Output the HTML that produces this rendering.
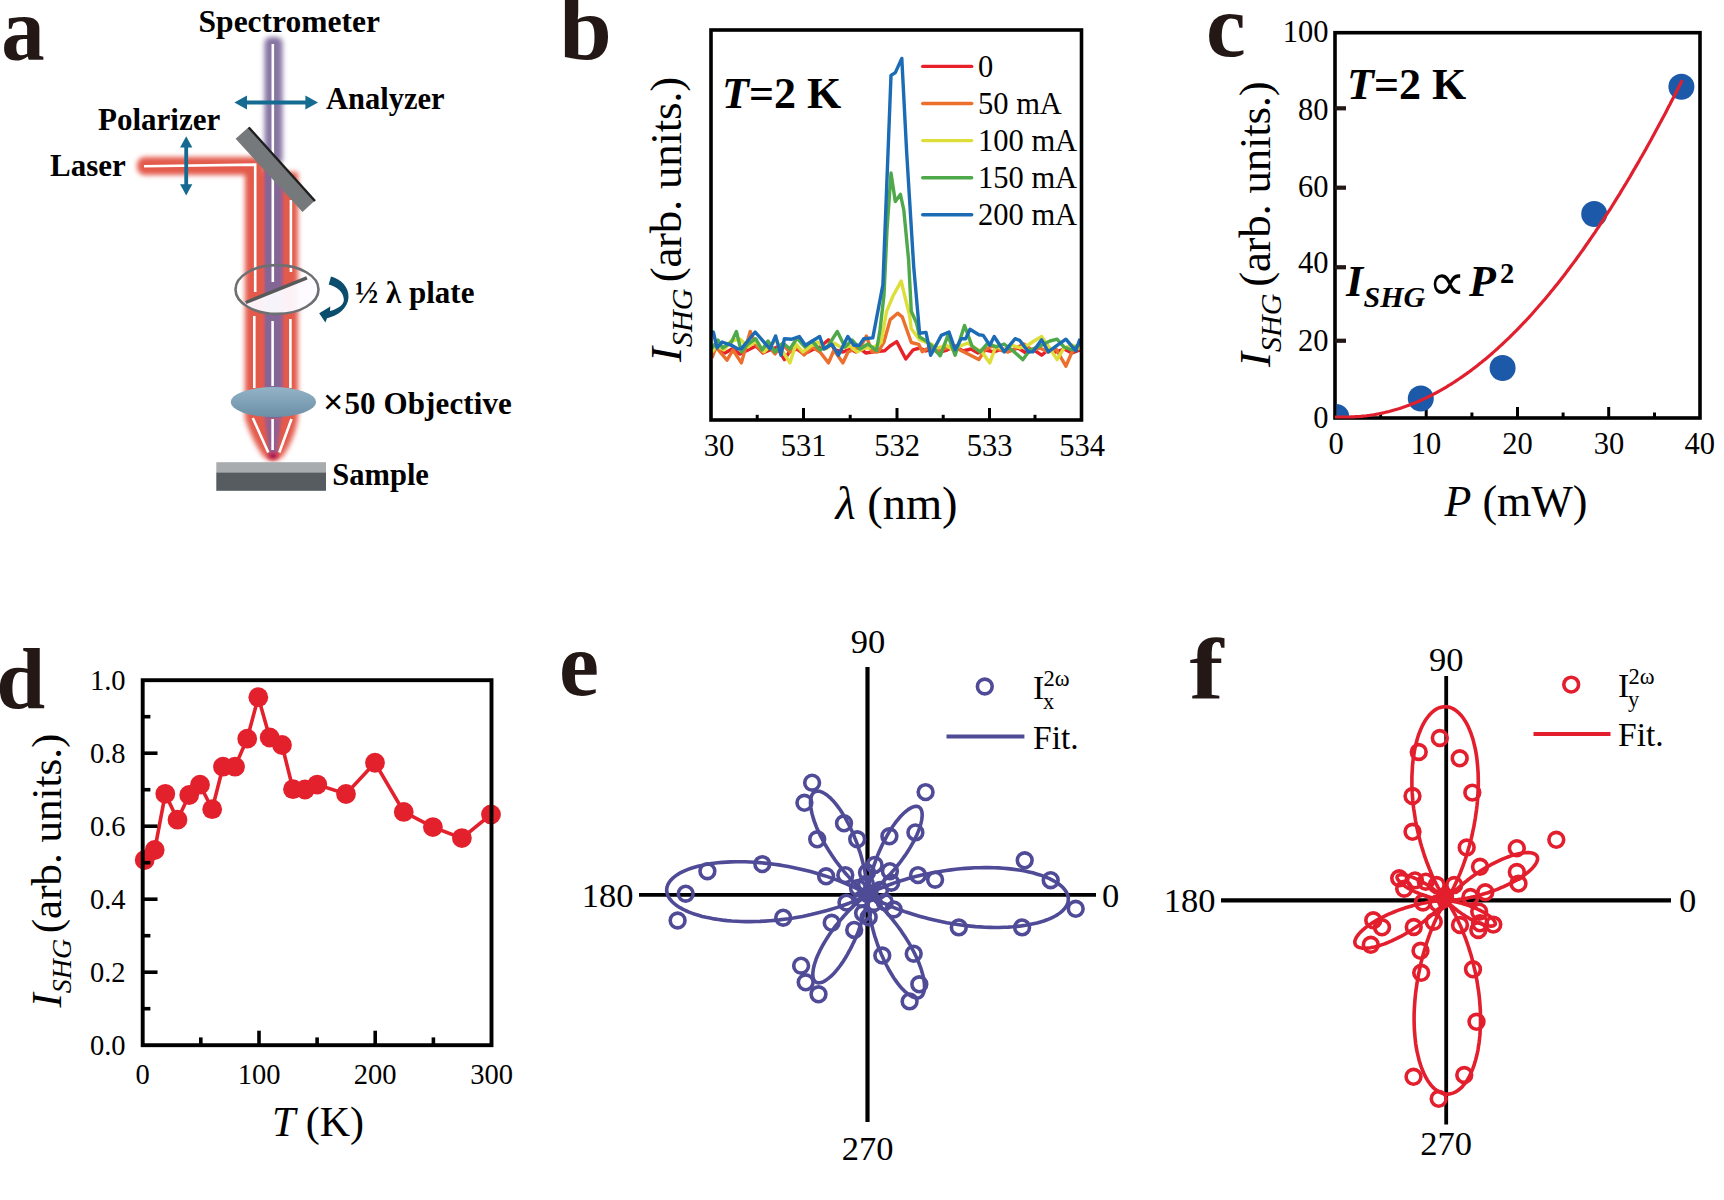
<!DOCTYPE html>
<html><head><meta charset="utf-8"><title>SHG figure</title>
<style>html,body{margin:0;padding:0;background:#fff;} svg{display:block;} text{font-family:'Liberation Serif', 'Times New Roman', serif;}</style>
</head><body>
<svg width="1724" height="1200" viewBox="0 0 1724 1200">
<rect width="1724" height="1200" fill="#fff"/>
<text transform="matrix(0.9439,0,0,0.9837,-0.72,1.28)" x="2" y="59.5" font-size="92" font-weight="bold" fill="#231815">a</text>
<text transform="matrix(1.0286,0,0,0.9918,-18.70,0.00)" x="562" y="59.5" font-size="92" font-weight="bold" fill="#231815">b</text>
<text transform="matrix(0.9714,0,0,0.9773,33.57,1.30)" x="1207" y="56" font-size="92" font-weight="bold" fill="#231815">c</text>
<text transform="matrix(0.9565,0,0,0.9375,-2.87,44.31)" x="-1" y="708" font-size="92" font-weight="bold" fill="#231815">d</text>
<text transform="matrix(0.9800,0,0,0.9773,10.26,15.82)" x="560" y="695" font-size="92" font-weight="bold" fill="#231815">e</text>
<text transform="matrix(1.1100,0,0,0.9375,-126.87,44.33)" x="1186" y="698" font-size="92" font-weight="bold" fill="#231815">f</text>
<defs>
<filter id="bl3" x="-30%" y="-10%" width="160%" height="120%"><feGaussianBlur stdDeviation="2.6"/></filter>
<filter id="bl2" x="-30%" y="-10%" width="160%" height="120%"><feGaussianBlur stdDeviation="1.8"/></filter>
<filter id="bl1"><feGaussianBlur stdDeviation="0.6"/></filter>
<linearGradient id="lens" x1="0" y1="0" x2="0" y2="1"><stop offset="0" stop-color="#93b3c6"/><stop offset="1" stop-color="#6c8fa7"/></linearGradient>
<linearGradient id="purp" x1="0" y1="0" x2="1" y2="0">
 <stop offset="0" stop-color="#e35a4c" stop-opacity="0"/>
 <stop offset="0.1" stop-color="#c05a70"/>
 <stop offset="0.18" stop-color="#836696"/>
 <stop offset="0.72" stop-color="#836696"/>
 <stop offset="0.85" stop-color="#b05a80"/>
 <stop offset="1" stop-color="#e35a4c" stop-opacity="0"/>
</linearGradient>
<radialGradient id="focus" cx="0.5" cy="0.5" r="0.5"><stop offset="0" stop-color="#a0145a"/><stop offset="1" stop-color="#c8284a" stop-opacity="0"/></radialGradient>
<clipPath id="clipC"><rect x="1336.8" y="34.5" width="361.4" height="381.7"/></clipPath>
<clipPath id="wpclip"><ellipse cx="277" cy="289.5" rx="42" ry="24.7"/></clipPath>
</defs>
<rect x="264.5" y="37" width="18" height="128" rx="6" fill="#8674a2" filter="url(#bl3)"/>
<g filter="url(#bl3)" fill="#e35a4c">
<rect x="137" y="157" width="125" height="18" rx="8"/>
<rect x="245" y="157" width="20" height="30"/>
<rect x="245" y="172" width="53" height="248"/>
<path d="M245,410 L298,410 L298,418 C296,432 290,446 283,456 Q273,466 263,456 C256,446 249,432 245,418 Z"/>
</g>
<polygon points="262,166 286,192 286,418 262,418" fill="url(#purp)" filter="url(#bl1)"/>
<path d="M265,418 L281,418 L277,454 L269,454 Z" fill="#8a5f98" opacity="0.9" filter="url(#bl2)"/>
<ellipse cx="273" cy="456" rx="8" ry="6" fill="url(#focus)"/>
<polyline points="144,166.3 255.2,164.6 255.2,292" stroke="#fff" stroke-width="2.6" fill="none"/>
<line x1="272.8" y1="44" x2="272.8" y2="282" stroke="#fff" stroke-width="2.6" fill="none"/>
<line x1="290.9" y1="200" x2="290.9" y2="272" stroke="#fff" stroke-width="2.6" fill="none"/>
<line x1="254.3" y1="316" x2="254.3" y2="388" stroke="#fff" stroke-width="2.6" fill="none"/>
<line x1="272.6" y1="321" x2="272.6" y2="386" stroke="#fff" stroke-width="2.6" fill="none"/>
<line x1="290.4" y1="319" x2="290.4" y2="388" stroke="#fff" stroke-width="2.6" fill="none"/>
<line x1="252.8" y1="418" x2="268.3" y2="452.5" stroke="#fff" stroke-width="2.6" fill="none"/>
<line x1="272.6" y1="419" x2="272.6" y2="450" stroke="#fff" stroke-width="2.6" fill="none"/>
<line x1="291.5" y1="419" x2="279.3" y2="452.5" stroke="#fff" stroke-width="2.6" fill="none"/>
<polygon points="235.6,138.8 248.8,126.9 315,200.6 302.5,211.9" fill="#76797c"/>
<polyline points="248.8,127.5 315,201" stroke="#1e1e1e" stroke-width="2.4" fill="none"/>
<g clip-path="url(#wpclip)"><polygon points="230,305 245.8,302.5 306.9,277.9 325,270 325,320 230,320" fill="#fdfbff" opacity="0.95"/></g>
<ellipse cx="277" cy="289.5" rx="41.5" ry="24.4" fill="none" stroke="#6d6f72" stroke-width="2.6"/>
<line x1="245.8" y1="302.5" x2="306.9" y2="277.9" stroke="#58595b" stroke-width="3.4"/>
<ellipse cx="273.4" cy="402.1" rx="42.7" ry="15" fill="url(#lens)"/>
<rect x="216.3" y="462.2" width="109.7" height="10.5" fill="#a8acae"/>
<rect x="216.3" y="472.5" width="109.7" height="18.3" fill="#565c60"/>
<line x1="246" y1="102.5" x2="306" y2="102.5" stroke="#156a91" stroke-width="3.8"/>
<polygon points="234.4,102.5 247,95.6 247,109.4" fill="#156a91"/>
<polygon points="318,102.5 305.4,95.6 305.4,109.4" fill="#156a91"/>
<line x1="186.2" y1="146" x2="186.2" y2="186" stroke="#156a91" stroke-width="3.8"/>
<polygon points="186.2,136.3 180.1,147.5 192.3,147.5" fill="#156a91"/>
<polygon points="186.2,195.4 180.1,184.2 192.3,184.2" fill="#156a91"/>
<path d="M331,276.6 C341,279.5 349,287 348.5,297.5 C348,308 338,316 327,318.2 L325.4,322.4 L319.2,313.2 L330.3,306.4 L330,311 C338,309 344,304.5 343.9,299.7 C343.5,292 337,286.5 328.7,284.5 Z" fill="#0b4d6c"/>
<text x="198.6" y="31.9" font-size="31.5" font-weight="bold" font-style="normal" text-anchor="start" fill="#000" >Spectrometer</text>
<text x="326.0" y="109.2" font-size="30.5" font-weight="bold" font-style="normal" text-anchor="start" fill="#000" >Analyzer</text>
<text x="98.0" y="129.9" font-size="31" font-weight="bold" font-style="normal" text-anchor="start" fill="#000" >Polarizer</text>
<text x="50.0" y="176.3" font-size="31" font-weight="bold" font-style="normal" text-anchor="start" fill="#000" >Laser</text>
<text x="355.0" y="303.2" font-size="31" font-weight="bold" font-style="normal" text-anchor="start" fill="#000" >½ λ plate</text>
<text x="323" y="413.8" font-size="31" font-weight="bold" fill="#000"><tspan font-size="36">×</tspan><tspan dx="1" letter-spacing="0.1">50 Objective</tspan></text>
<text x="332.3" y="485.4" font-size="30.5" font-weight="bold" font-style="normal" text-anchor="start" fill="#000" >Sample</text>
<polyline points="712.0,351.0 718.0,347.0 725.0,353.0 732.0,349.0 740.0,354.0 748.0,350.0 756.0,346.0 763.0,353.0 770.0,350.0 777.0,347.0 784.4,359.6 790.0,351.0 797.0,349.0 804.0,354.0 812.0,350.0 820.0,347.0 828.5,339.8 835.0,350.0 843.0,352.0 850.0,349.0 856.0,352.0 860.0,348.9 866.0,353.0 873.7,351.7 884.7,350.7 890.0,346.0 896.7,341.6 905.8,359.0 913.2,349.8 919.6,348.0 926.0,351.0 933.0,348.0 940.0,352.0 947.0,350.0 955.0,346.0 963.0,351.0 971.0,349.0 978.0,353.0 986.0,350.0 994.0,352.0 1002.0,349.0 1010.0,351.0 1018.0,348.0 1026.0,353.0 1034.0,350.0 1041.6,355.2 1048.0,350.0 1056.0,352.0 1064.0,349.0 1072.0,353.0 1080.0,350.0" fill="none" stroke="#e8202a" stroke-width="3.4" stroke-linejoin="round"/>
<polyline points="712.0,358.0 716.0,347.0 720.0,352.0 727.0,360.2 733.0,350.0 741.4,362.9 750.2,331.5 756.0,345.0 762.0,352.0 768.0,346.0 775.0,354.0 782.0,344.0 790.0,352.0 797.0,347.0 804.0,355.0 812.0,347.0 820.0,352.0 828.5,362.9 834.0,350.0 842.8,362.9 848.0,352.0 855.0,349.0 860.0,348.0 866.4,336.0 871.9,351.7 878.3,351.7 883.8,342.5 890.2,319.6 897.6,313.2 902.2,316.8 911.3,342.5 918.7,344.3 922.3,351.7 930.0,347.0 937.0,352.0 944.0,349.0 952.0,346.0 960.0,350.0 968.0,354.0 978.8,359.6 985.0,350.0 992.0,346.0 1000.0,350.0 1008.0,352.0 1016.0,348.0 1024.0,344.0 1032.0,350.0 1040.0,348.0 1048.0,352.0 1056.0,349.0 1065.9,366.2 1072.0,352.0 1080.0,345.0" fill="none" stroke="#ec6f2d" stroke-width="3.4" stroke-linejoin="round"/>
<polyline points="712.0,352.0 717.0,346.0 724.0,350.0 731.0,341.0 740.3,339.2 748.0,347.0 756.0,341.0 764.0,352.0 770.0,346.0 776.0,340.0 783.0,352.0 789.9,362.9 796.0,344.0 803.0,352.0 811.0,346.0 818.0,342.0 826.0,349.0 834.0,343.0 842.0,348.0 850.0,346.0 857.0,352.0 864.6,348.0 870.0,348.0 876.0,346.0 881.1,342.5 886.6,311.3 893.0,296.0 901.2,281.1 905.0,297.0 909.5,315.0 911.3,328.7 919.6,339.7 931.5,344.3 938.0,348.0 946.0,345.0 953.0,350.0 960.0,346.0 968.0,343.0 975.0,348.0 982.0,352.0 989.8,362.9 996.0,346.0 1004.0,350.0 1012.0,345.0 1020.0,348.0 1028.0,345.0 1034.0,341.0 1041.6,336.5 1049.0,347.0 1057.1,359.6 1064.0,348.0 1072.0,345.0 1080.0,349.0" fill="none" stroke="#dede3a" stroke-width="3.4" stroke-linejoin="round"/>
<polyline points="712.0,348.0 718.0,340.0 722.6,348.0 731.5,342.0 736.4,331.5 741.4,352.0 748.0,344.0 755.7,338.7 762.0,350.0 768.0,341.0 775.0,352.0 783.0,343.0 790.0,349.0 797.0,338.0 805.0,347.0 812.0,341.0 820.0,350.0 828.0,346.0 837.3,331.5 845.0,347.0 852.0,340.0 860.0,349.0 868.0,344.0 876.5,350.7 880.0,330.0 884.0,295.0 887.0,230.0 891.0,173.0 895.3,201.5 900.4,194.4 903.8,210.0 908.6,260.0 911.3,311.3 916.6,323.3 919.6,337.0 926.0,340.7 932.0,346.0 940.2,355.8 947.9,335.4 955.1,355.2 964.5,325.4 972.0,346.0 980.0,352.0 988.0,343.0 996.0,347.0 1004.0,344.0 1012.0,350.0 1022.9,359.6 1030.0,350.0 1040.0,346.0 1050.0,341.0 1057.0,339.2 1064.0,347.0 1072.0,350.0 1080.0,343.0" fill="none" stroke="#4fa84a" stroke-width="3.4" stroke-linejoin="round"/>
<polyline points="712.0,335.0 713.3,332.0 717.1,348.0 722.1,342.0 731.5,345.3 738.0,349.0 741.4,348.6 755.2,332.0 770.0,349.0 775.6,335.9 781.0,355.2 784.4,338.7 792.0,339.2 799.3,336.5 805.3,345.3 819.7,336.5 824.0,349.0 831.8,344.2 838.4,355.2 847.8,336.5 853.8,345.3 859.4,345.3 863.8,338.7 872.8,337.9 882.9,284.7 891.0,75.4 895.3,72.6 901.8,58.4 906.7,153.0 913.7,266.6 919.6,333.3 926.0,332.4 930.7,355.3 941.3,335.4 949.0,332.0 955.1,349.7 961.2,338.7 965.6,338.7 970.0,329.3 978.8,334.8 983.2,335.4 989.8,345.3 994.2,336.5 1004.2,351.9 1015.2,338.7 1019.6,340.3 1028.4,351.9 1032.8,351.9 1041.6,339.8 1048.3,351.9 1057.1,345.3 1065.9,339.2 1075.8,350.8 1080.0,338.7" fill="none" stroke="#1c6bb5" stroke-width="3.4" stroke-linejoin="round"/>
<rect x="711" y="30" width="370.5" height="390" fill="none" stroke="#000" stroke-width="3.6"/>
<line x1="803.5" y1="420" x2="803.5" y2="408" stroke="#000" stroke-width="3"/>
<line x1="897" y1="420" x2="897" y2="408" stroke="#000" stroke-width="3"/>
<line x1="989.5" y1="420" x2="989.5" y2="408" stroke="#000" stroke-width="3"/>
<line x1="757.2" y1="420" x2="757.2" y2="414.8" stroke="#000" stroke-width="3"/>
<line x1="850.2" y1="420" x2="850.2" y2="414.8" stroke="#000" stroke-width="3"/>
<line x1="943.2" y1="420" x2="943.2" y2="414.8" stroke="#000" stroke-width="3"/>
<line x1="1035" y1="420" x2="1035" y2="414.8" stroke="#000" stroke-width="3"/>
<text x="719.0" y="456.4" font-size="30.5" font-weight="normal" font-style="normal" text-anchor="middle" fill="#000" >30</text>
<text x="803.5" y="456.4" font-size="30.5" font-weight="normal" font-style="normal" text-anchor="middle" fill="#000" >531</text>
<text x="897.0" y="456.4" font-size="30.5" font-weight="normal" font-style="normal" text-anchor="middle" fill="#000" >532</text>
<text x="989.5" y="456.4" font-size="30.5" font-weight="normal" font-style="normal" text-anchor="middle" fill="#000" >533</text>
<text x="1082.0" y="456.4" font-size="30.5" font-weight="normal" font-style="normal" text-anchor="middle" fill="#000" >534</text>
<line x1="922.7" y1="66.4" x2="971.7" y2="66.4" stroke="#e8202a" stroke-width="3.4" stroke-linecap="round"/>
<text x="978.0" y="76.6" font-size="30.5" font-weight="normal" font-style="normal" text-anchor="start" fill="#000" >0</text>
<line x1="922.7" y1="103.5" x2="971.7" y2="103.5" stroke="#ec6f2d" stroke-width="3.4" stroke-linecap="round"/>
<text x="978.0" y="113.7" font-size="30.5" font-weight="normal" font-style="normal" text-anchor="start" fill="#000" >50 mA</text>
<line x1="922.7" y1="140.6" x2="971.7" y2="140.6" stroke="#dede3a" stroke-width="3.4" stroke-linecap="round"/>
<text x="978.0" y="150.8" font-size="30.5" font-weight="normal" font-style="normal" text-anchor="start" fill="#000" >100 mA</text>
<line x1="922.7" y1="177.7" x2="971.7" y2="177.7" stroke="#4fa84a" stroke-width="3.4" stroke-linecap="round"/>
<text x="978.0" y="187.9" font-size="30.5" font-weight="normal" font-style="normal" text-anchor="start" fill="#000" >150 mA</text>
<line x1="922.7" y1="214.8" x2="971.7" y2="214.8" stroke="#1c6bb5" stroke-width="3.4" stroke-linecap="round"/>
<text x="978.0" y="225.0" font-size="30.5" font-weight="normal" font-style="normal" text-anchor="start" fill="#000" >200 mA</text>
<text x="722" y="107.6" font-size="44" font-weight="bold" fill="#000"><tspan font-style="italic">T</tspan>=2 K</text>
<text transform="translate(681,362) rotate(-90)" font-size="45" fill="#000"><tspan font-style="italic">I</tspan><tspan font-style="italic" font-size="30" dy="11">SHG</tspan><tspan dx="6.3" dy="-11" letter-spacing="-0.25">(arb. units.)</tspan></text>
<text x="896.5" y="519.2" font-size="46.5" text-anchor="middle" fill="#000"><tspan font-style="italic">λ</tspan> (nm)</text>
<rect x="1335" y="32.7" width="365" height="385.3" fill="none" stroke="#000" stroke-width="3.6"/>
<line x1="1335" y1="108.3" x2="1346" y2="108.3" stroke="#231815" stroke-width="4.2"/>
<line x1="1335" y1="187.7" x2="1346" y2="187.7" stroke="#231815" stroke-width="4.2"/>
<line x1="1335" y1="267.25" x2="1346" y2="267.25" stroke="#231815" stroke-width="4.2"/>
<line x1="1335" y1="340.75" x2="1346" y2="340.75" stroke="#231815" stroke-width="4.2"/>
<line x1="1426.2" y1="418" x2="1426.2" y2="407" stroke="#000" stroke-width="3"/>
<line x1="1517.5" y1="418" x2="1517.5" y2="407" stroke="#000" stroke-width="3"/>
<line x1="1608.7" y1="418" x2="1608.7" y2="407" stroke="#000" stroke-width="3"/>
<line x1="1380.6" y1="418" x2="1380.6" y2="412.5" stroke="#000" stroke-width="3"/>
<line x1="1471.9" y1="418" x2="1471.9" y2="412.5" stroke="#000" stroke-width="3"/>
<line x1="1563.1" y1="418" x2="1563.1" y2="412.5" stroke="#000" stroke-width="3"/>
<line x1="1654.5" y1="418" x2="1654.5" y2="412.5" stroke="#000" stroke-width="3"/>
<g clip-path="url(#clipC)">
<circle cx="1336.3" cy="417" r="13" fill="#1c59a8"/>
<circle cx="1420.8" cy="398.5" r="13" fill="#1c59a8"/>
<circle cx="1502.6" cy="368" r="13" fill="#1c59a8"/>
<circle cx="1594.2" cy="214" r="13" fill="#1c59a8"/>
<circle cx="1681.4" cy="86.7" r="13" fill="#1c59a8"/>
</g>
<polyline points="1335.0,417.0 1336.7,417.0 1338.5,417.0 1340.2,417.0 1342.0,417.0 1343.7,417.0 1345.5,417.0 1347.2,417.0 1349.0,417.0 1350.7,416.9 1352.4,416.9 1354.2,416.8 1355.9,416.7 1357.7,416.6 1359.4,416.5 1361.2,416.3 1362.9,416.1 1364.7,416.0 1366.4,415.8 1368.1,415.5 1369.9,415.3 1371.6,415.0 1373.4,414.8 1375.1,414.5 1376.9,414.2 1378.6,413.8 1380.4,413.5 1382.1,413.1 1383.9,412.7 1385.6,412.3 1387.3,411.9 1389.1,411.5 1390.8,411.0 1392.6,410.5 1394.3,410.0 1396.1,409.5 1397.8,409.0 1399.6,408.5 1401.3,407.9 1403.0,407.3 1404.8,406.7 1406.5,406.1 1408.3,405.4 1410.0,404.8 1411.8,404.1 1413.5,403.4 1415.3,402.7 1417.0,402.0 1418.7,401.2 1420.5,400.5 1422.2,399.7 1424.0,398.9 1425.7,398.1 1427.5,397.2 1429.2,396.4 1431.0,395.5 1432.7,394.6 1434.4,393.7 1436.2,392.8 1437.9,391.8 1439.7,390.8 1441.4,389.9 1443.2,388.9 1444.9,387.8 1446.7,386.8 1448.4,385.7 1450.2,384.7 1451.9,383.6 1453.6,382.5 1455.4,381.3 1457.1,380.2 1458.9,379.0 1460.6,377.8 1462.4,376.6 1464.1,375.4 1465.9,374.2 1467.6,372.9 1469.3,371.7 1471.1,370.4 1472.8,369.1 1474.6,367.7 1476.3,366.4 1478.1,365.0 1479.8,363.6 1481.6,362.2 1483.3,360.8 1485.0,359.4 1486.8,357.9 1488.5,356.5 1490.3,355.0 1492.0,353.5 1493.8,351.9 1495.5,350.4 1497.3,348.8 1499.0,347.2 1500.7,345.6 1502.5,344.0 1504.2,342.4 1506.0,340.7 1507.7,339.1 1509.5,337.4 1511.2,335.7 1513.0,333.9 1514.7,332.2 1516.5,330.4 1518.2,328.6 1519.9,326.8 1521.7,325.0 1523.4,323.2 1525.2,321.3 1526.9,319.5 1528.7,317.6 1530.4,315.7 1532.2,313.7 1533.9,311.8 1535.6,309.8 1537.4,307.8 1539.1,305.8 1540.9,303.8 1542.6,301.8 1544.4,299.7 1546.1,297.7 1547.9,295.6 1549.6,293.5 1551.3,291.3 1553.1,289.2 1554.8,287.0 1556.6,284.9 1558.3,282.7 1560.1,280.4 1561.8,278.2 1563.6,276.0 1565.3,273.7 1567.0,271.4 1568.8,269.1 1570.5,266.8 1572.3,264.4 1574.0,262.1 1575.8,259.7 1577.5,257.3 1579.3,254.9 1581.0,252.4 1582.8,250.0 1584.5,247.5 1586.2,245.0 1588.0,242.5 1589.7,240.0 1591.5,237.4 1593.2,234.9 1595.0,232.3 1596.7,229.7 1598.5,227.1 1600.2,224.4 1601.9,221.8 1603.7,219.1 1605.4,216.4 1607.2,213.7 1608.9,211.0 1610.7,208.3 1612.4,205.5 1614.2,202.7 1615.9,199.9 1617.6,197.1 1619.4,194.3 1621.1,191.4 1622.9,188.5 1624.6,185.7 1626.4,182.8 1628.1,179.8 1629.9,176.9 1631.6,173.9 1633.3,170.9 1635.1,167.9 1636.8,164.9 1638.6,161.9 1640.3,158.8 1642.1,155.8 1643.8,152.7 1645.6,149.6 1647.3,146.5 1649.1,143.3 1650.8,140.2 1652.5,137.0 1654.3,133.8 1656.0,130.6 1657.8,127.3 1659.5,124.1 1661.3,120.8 1663.0,117.5 1664.8,114.2 1666.5,110.9 1668.2,107.6 1670.0,104.2 1671.7,100.8 1673.5,97.4 1675.2,94.0 1677.0,90.6 1678.7,87.1 1680.5,83.7 1682.2,80.2" fill="none" stroke="#e0202e" stroke-width="3.2"/>
<text x="1328.5" y="42.0" font-size="30.5" font-weight="normal" font-style="normal" text-anchor="end" fill="#000" >100</text>
<text x="1328.5" y="119.5" font-size="30.5" font-weight="normal" font-style="normal" text-anchor="end" fill="#000" >80</text>
<text x="1328.5" y="196.5" font-size="30.5" font-weight="normal" font-style="normal" text-anchor="end" fill="#000" >60</text>
<text x="1328.5" y="273.3" font-size="30.5" font-weight="normal" font-style="normal" text-anchor="end" fill="#000" >40</text>
<text x="1328.5" y="350.5" font-size="30.5" font-weight="normal" font-style="normal" text-anchor="end" fill="#000" >20</text>
<text x="1328.5" y="427.5" font-size="30.5" font-weight="normal" font-style="normal" text-anchor="end" fill="#000" >0</text>
<text x="1336.0" y="453.5" font-size="30.5" font-weight="normal" font-style="normal" text-anchor="middle" fill="#000" >0</text>
<text x="1426.0" y="453.5" font-size="30.5" font-weight="normal" font-style="normal" text-anchor="middle" fill="#000" >10</text>
<text x="1517.5" y="453.5" font-size="30.5" font-weight="normal" font-style="normal" text-anchor="middle" fill="#000" >20</text>
<text x="1609.0" y="453.5" font-size="30.5" font-weight="normal" font-style="normal" text-anchor="middle" fill="#000" >30</text>
<text x="1699.7" y="453.5" font-size="30.5" font-weight="normal" font-style="normal" text-anchor="middle" fill="#000" >40</text>
<text x="1347" y="98.9" font-size="44" font-weight="bold" fill="#000"><tspan font-style="italic">T</tspan>=2 K</text>
<text x="1346" y="295.8" font-size="44" font-weight="bold" font-style="italic" fill="#000">I</text>
<text x="1363.5" y="307.3" font-size="30" font-weight="bold" font-style="italic" fill="#000">SHG</text>
<text x="1427.7" y="299.5" font-size="53" fill="#000">∝</text>
<text x="1469" y="295.8" font-size="44" font-weight="bold" font-style="italic" fill="#000">P</text>
<text x="1500" y="282.5" font-size="28.5" font-weight="bold" fill="#000">2</text>
<text transform="translate(1269.5,367) rotate(-90)" font-size="45" fill="#000"><tspan font-style="italic">I</tspan><tspan font-style="italic" font-size="30" dy="11">SHG</tspan><tspan dx="6.8" dy="-11" letter-spacing="-0.25">(arb. units.)</tspan></text>
<text x="1516" y="515.5" font-size="44" text-anchor="middle" fill="#000"><tspan font-style="italic">P</tspan> (mW)</text>
<polyline points="144.7,860.0 154.7,850.0 165.3,793.8 177.5,819.7 189.2,795.0 200.0,784.7 212.2,809.2 223.0,766.7 235.0,766.7 247.2,738.7 258.3,697.2 269.7,737.5 282.0,745.0 293.0,789.2 305.0,789.5 317.2,784.6 346.0,794.0 375.0,762.8 403.8,811.9 432.9,827.1 461.9,838.1 491.0,814.4" fill="none" stroke="#e3212d" stroke-width="3.6"/>
<circle cx="144.7" cy="860" r="9.9" fill="#e3212d"/>
<circle cx="154.7" cy="850" r="9.9" fill="#e3212d"/>
<circle cx="165.3" cy="793.8" r="9.9" fill="#e3212d"/>
<circle cx="177.5" cy="819.7" r="9.9" fill="#e3212d"/>
<circle cx="189.2" cy="795" r="9.9" fill="#e3212d"/>
<circle cx="200" cy="784.7" r="9.9" fill="#e3212d"/>
<circle cx="212.2" cy="809.2" r="9.9" fill="#e3212d"/>
<circle cx="223" cy="766.7" r="9.9" fill="#e3212d"/>
<circle cx="235" cy="766.7" r="9.9" fill="#e3212d"/>
<circle cx="247.2" cy="738.7" r="9.9" fill="#e3212d"/>
<circle cx="258.3" cy="697.2" r="9.9" fill="#e3212d"/>
<circle cx="269.7" cy="737.5" r="9.9" fill="#e3212d"/>
<circle cx="282" cy="745" r="9.9" fill="#e3212d"/>
<circle cx="293" cy="789.2" r="9.9" fill="#e3212d"/>
<circle cx="305" cy="789.5" r="9.9" fill="#e3212d"/>
<circle cx="317.25" cy="784.6" r="9.9" fill="#e3212d"/>
<circle cx="346" cy="794" r="9.9" fill="#e3212d"/>
<circle cx="375" cy="762.75" r="9.9" fill="#e3212d"/>
<circle cx="403.75" cy="811.9" r="9.9" fill="#e3212d"/>
<circle cx="432.9" cy="827.1" r="9.9" fill="#e3212d"/>
<circle cx="461.9" cy="838.1" r="9.9" fill="#e3212d"/>
<circle cx="491" cy="814.4" r="9.9" fill="#e3212d"/>
<rect x="142.7" y="680.2" width="348.8" height="365" fill="none" stroke="#000" stroke-width="3.9"/>
<line x1="142.7" y1="972.2" x2="157.5" y2="972.2" stroke="#000" stroke-width="3.6"/>
<line x1="142.7" y1="899.2" x2="157.5" y2="899.2" stroke="#000" stroke-width="3.6"/>
<line x1="142.7" y1="826.2" x2="157.5" y2="826.2" stroke="#000" stroke-width="3.6"/>
<line x1="142.7" y1="753.2" x2="157.5" y2="753.2" stroke="#000" stroke-width="3.6"/>
<line x1="142.7" y1="1008.7" x2="150.4" y2="1008.7" stroke="#000" stroke-width="3.6"/>
<line x1="142.7" y1="935.7" x2="150.4" y2="935.7" stroke="#000" stroke-width="3.6"/>
<line x1="142.7" y1="862.7" x2="150.4" y2="862.7" stroke="#000" stroke-width="3.6"/>
<line x1="142.7" y1="789.7" x2="150.4" y2="789.7" stroke="#000" stroke-width="3.6"/>
<line x1="142.7" y1="716.7" x2="150.4" y2="716.7" stroke="#000" stroke-width="3.6"/>
<line x1="259.0" y1="1045.2" x2="259.0" y2="1030.7" stroke="#000" stroke-width="3.6"/>
<line x1="375.2" y1="1045.2" x2="375.2" y2="1030.7" stroke="#000" stroke-width="3.6"/>
<line x1="200.8" y1="1045.2" x2="200.8" y2="1037.4" stroke="#000" stroke-width="3.6"/>
<line x1="317.1" y1="1045.2" x2="317.1" y2="1037.4" stroke="#000" stroke-width="3.6"/>
<line x1="433.4" y1="1045.2" x2="433.4" y2="1037.4" stroke="#000" stroke-width="3.6"/>
<text x="125.5" y="690.0" font-size="28.5" font-weight="normal" font-style="normal" text-anchor="end" fill="#000" >1.0</text>
<text x="125.5" y="763.0" font-size="28.5" font-weight="normal" font-style="normal" text-anchor="end" fill="#000" >0.8</text>
<text x="125.5" y="836.0" font-size="28.5" font-weight="normal" font-style="normal" text-anchor="end" fill="#000" >0.6</text>
<text x="125.5" y="909.0" font-size="28.5" font-weight="normal" font-style="normal" text-anchor="end" fill="#000" >0.4</text>
<text x="125.5" y="982.0" font-size="28.5" font-weight="normal" font-style="normal" text-anchor="end" fill="#000" >0.2</text>
<text x="125.5" y="1055.0" font-size="28.5" font-weight="normal" font-style="normal" text-anchor="end" fill="#000" >0.0</text>
<text x="142.7" y="1083.6" font-size="28.5" font-weight="normal" font-style="normal" text-anchor="middle" fill="#000" >0</text>
<text x="259.0" y="1083.6" font-size="28.5" font-weight="normal" font-style="normal" text-anchor="middle" fill="#000" >100</text>
<text x="375.2" y="1083.6" font-size="28.5" font-weight="normal" font-style="normal" text-anchor="middle" fill="#000" >200</text>
<text x="491.5" y="1083.6" font-size="28.5" font-weight="normal" font-style="normal" text-anchor="middle" fill="#000" >300</text>
<text transform="translate(61,1007.5) rotate(-90)" font-size="43" fill="#000"><tspan font-style="italic">I</tspan><tspan font-style="italic" font-size="28" dy="10">SHG</tspan><tspan dx="5.5" dy="-10" letter-spacing="0">(arb. units.)</tspan></text>
<text x="318" y="1135.8" font-size="42" text-anchor="middle" fill="#000"><tspan font-style="italic">T</tspan> (K)</text>
<line x1="639" y1="894.8" x2="1096" y2="894.8" stroke="#000" stroke-width="3.8"/>
<line x1="867.5" y1="667" x2="867.5" y2="1122" stroke="#000" stroke-width="4.2"/>
<polyline points="1067.5,894.6 1066.8,892.9 1065.8,891.1 1064.5,889.4 1063.1,887.8 1061.4,886.1 1059.4,884.5 1057.3,883.0 1054.9,881.5 1052.3,880.1 1049.5,878.7 1046.5,877.4 1043.3,876.1 1040.0,874.9 1036.5,873.9 1032.8,872.8 1028.9,871.9 1024.9,871.1 1020.8,870.3 1016.6,869.7 1012.2,869.1 1007.8,868.6 1003.3,868.2 998.6,867.9 994.0,867.7 989.2,867.6 984.5,867.6 979.7,867.7 974.9,867.8 970.0,868.1 965.2,868.4 960.4,868.8 955.6,869.3 950.9,869.9 946.2,870.5 941.6,871.2 937.1,872.0 932.6,872.8 928.2,873.7 924.0,874.6 919.8,875.6 915.7,876.6 911.8,877.6 908.1,878.6 904.4,879.7 900.9,880.8 897.6,881.8 894.4,882.9 891.4,884.0 888.6,885.0 885.9,886.0 883.4,887.0 881.1,888.0 878.9,888.9 877.0,889.8 875.2,890.6 873.7,891.3 872.3,892.0 871.0,892.6 870.0,893.2 869.2,893.6 868.5,894.0 868.0,894.3 867.7,894.5 867.5,894.6 867.5,894.6 867.7,894.5 868.0,894.3 868.5,893.9 869.1,893.5 869.8,893.0 870.7,892.3 871.7,891.6 872.8,890.7 874.0,889.7 875.3,888.6 876.7,887.4 878.2,886.1 879.7,884.7 881.3,883.2 883.0,881.6 884.7,879.9 886.5,878.1 888.3,876.2 890.1,874.3 891.9,872.2 893.7,870.1 895.6,868.0 897.4,865.7 899.2,863.5 901.0,861.1 902.7,858.8 904.4,856.4 906.1,854.0 907.7,851.5 909.2,849.1 910.7,846.6 912.1,844.2 913.4,841.8 914.7,839.4 915.8,837.0 916.9,834.7 917.9,832.4 918.8,830.2 919.5,828.0 920.2,825.9 920.8,823.9 921.3,821.9 921.7,820.0 921.9,818.3 922.1,816.6 922.2,815.1 922.1,813.6 922.0,812.3 921.7,811.1 921.4,810.0 920.9,809.1 920.4,808.3 919.8,807.6 919.1,807.1 918.3,806.7 917.4,806.4 916.4,806.3 915.4,806.4 914.3,806.6 913.1,806.9 911.9,807.4 910.6,808.1 909.3,808.8 908.0,809.8 906.6,810.8 905.1,812.0 903.7,813.3 902.2,814.8 900.7,816.3 899.2,818.0 897.7,819.8 896.2,821.7 894.7,823.7 893.2,825.8 891.7,828.0 890.3,830.3 888.8,832.6 887.4,835.0 886.1,837.5 884.7,840.0 883.4,842.5 882.2,845.1 881.0,847.6 879.8,850.2 878.7,852.8 877.6,855.4 876.6,858.0 875.7,860.6 874.8,863.1 873.9,865.5 873.2,868.0 872.4,870.3 871.8,872.6 871.2,874.9 870.6,877.0 870.1,879.0 869.7,881.0 869.3,882.8 868.9,884.6 868.6,886.2 868.4,887.6 868.1,889.0 868.0,890.2 867.8,891.3 867.7,892.2 867.6,893.0 867.6,893.6 867.5,894.1 867.5,894.4 867.5,894.6 867.5,894.6 867.5,894.4 867.5,894.1 867.5,893.6 867.5,893.0 867.5,892.2 867.4,891.2 867.4,890.1 867.3,888.9 867.2,887.5 867.0,886.0 866.9,884.3 866.7,882.5 866.4,880.5 866.1,878.5 865.7,876.3 865.3,874.0 864.9,871.7 864.4,869.2 863.8,866.7 863.2,864.0 862.5,861.3 861.8,858.6 861.0,855.8 860.2,852.9 859.2,850.1 858.3,847.2 857.3,844.2 856.2,841.3 855.0,838.4 853.9,835.5 852.6,832.6 851.3,829.8 850.0,827.0 848.6,824.2 847.2,821.6 845.8,818.9 844.3,816.4 842.8,813.9 841.3,811.5 839.8,809.3 838.2,807.1 836.7,805.1 835.1,803.1 833.6,801.3 832.0,799.7 830.5,798.1 829.0,796.8 827.5,795.5 826.0,794.4 824.6,793.5 823.2,792.7 821.9,792.1 820.6,791.6 819.3,791.3 818.2,791.2 817.1,791.2 816.0,791.4 815.1,791.7 814.2,792.2 813.4,792.9 812.7,793.7 812.1,794.6 811.6,795.8 811.2,797.0 810.8,798.4 810.6,800.0 810.5,801.6 810.5,803.4 810.6,805.3 810.8,807.3 811.2,809.5 811.6,811.7 812.1,814.0 812.8,816.4 813.5,818.9 814.3,821.4 815.3,824.0 816.3,826.7 817.5,829.4 818.7,832.1 820.0,834.9 821.4,837.7 822.9,840.5 824.4,843.3 826.0,846.0 827.7,848.8 829.4,851.6 831.2,854.3 833.0,857.0 834.8,859.6 836.7,862.2 838.6,864.7 840.5,867.1 842.4,869.5 844.3,871.8 846.1,874.0 848.0,876.1 849.8,878.1 851.6,880.0 853.3,881.8 854.9,883.5 856.5,885.1 858.1,886.5 859.5,887.9 860.8,889.1 862.1,890.2 863.2,891.2 864.2,892.0 865.1,892.8 865.9,893.4 866.5,893.9 867.0,894.2 867.3,894.5 867.5,894.6 867.5,894.6 867.3,894.5 867.0,894.3 866.5,894.0 865.8,893.5 865.0,893.0 863.9,892.4 862.7,891.7 861.3,891.0 859.7,890.1 857.9,889.2 856.0,888.2 853.8,887.2 851.5,886.1 849.0,885.0 846.3,883.8 843.4,882.6 840.4,881.4 837.2,880.1 833.8,878.9 830.3,877.6 826.6,876.4 822.8,875.2 818.9,874.0 814.8,872.8 810.6,871.6 806.3,870.5 801.9,869.4 797.5,868.4 792.9,867.4 788.3,866.5 783.6,865.7 778.8,864.9 774.0,864.2 769.2,863.6 764.4,863.1 759.5,862.6 754.7,862.3 749.9,862.0 745.1,861.8 740.4,861.7 735.7,861.7 731.1,861.9 726.6,862.1 722.2,862.4 717.8,862.8 713.6,863.3 709.5,863.9 705.5,864.6 701.7,865.4 698.0,866.2 694.5,867.2 691.2,868.2 688.0,869.4 685.1,870.6 682.3,871.9 679.7,873.2 677.4,874.6 675.3,876.1 673.4,877.6 671.7,879.2 670.3,880.8 669.1,882.5 668.1,884.1 667.4,885.9 666.9,887.6 666.7,889.3 666.7,891.1 667.0,892.8 667.5,894.6 668.2,896.3 669.2,898.1 670.5,899.8 671.9,901.4 673.6,903.1 675.6,904.7 677.7,906.2 680.1,907.7 682.7,909.1 685.5,910.5 688.5,911.8 691.7,913.1 695.0,914.3 698.5,915.3 702.2,916.4 706.1,917.3 710.1,918.1 714.2,918.9 718.4,919.5 722.8,920.1 727.2,920.6 731.7,921.0 736.4,921.3 741.0,921.5 745.8,921.6 750.5,921.6 755.3,921.5 760.1,921.4 765.0,921.1 769.8,920.8 774.6,920.4 779.4,919.9 784.1,919.3 788.8,918.7 793.4,918.0 797.9,917.2 802.4,916.4 806.8,915.5 811.0,914.6 815.2,913.6 819.3,912.6 823.2,911.6 826.9,910.6 830.6,909.5 834.1,908.4 837.4,907.4 840.6,906.3 843.6,905.2 846.4,904.2 849.1,903.2 851.6,902.2 853.9,901.2 856.1,900.3 858.0,899.4 859.8,898.6 861.3,897.9 862.7,897.2 864.0,896.6 865.0,896.0 865.8,895.6 866.5,895.2 867.0,894.9 867.3,894.7 867.5,894.6 867.5,894.6 867.3,894.7 867.0,894.9 866.5,895.3 865.9,895.7 865.2,896.2 864.3,896.9 863.3,897.6 862.2,898.5 861.0,899.5 859.7,900.6 858.3,901.8 856.8,903.1 855.3,904.5 853.7,906.0 852.0,907.6 850.3,909.3 848.5,911.1 846.7,913.0 844.9,914.9 843.1,917.0 841.3,919.1 839.4,921.2 837.6,923.5 835.8,925.7 834.0,928.1 832.3,930.4 830.6,932.8 828.9,935.2 827.3,937.7 825.8,940.1 824.3,942.6 822.9,945.0 821.6,947.4 820.3,949.8 819.2,952.2 818.1,954.5 817.1,956.8 816.2,959.0 815.5,961.2 814.8,963.3 814.2,965.3 813.7,967.3 813.3,969.2 813.1,970.9 812.9,972.6 812.8,974.1 812.9,975.6 813.0,976.9 813.3,978.1 813.6,979.2 814.1,980.1 814.6,980.9 815.2,981.6 815.9,982.1 816.7,982.5 817.6,982.8 818.6,982.9 819.6,982.8 820.7,982.6 821.9,982.3 823.1,981.8 824.4,981.1 825.7,980.4 827.0,979.4 828.4,978.4 829.9,977.2 831.3,975.9 832.8,974.4 834.3,972.9 835.8,971.2 837.3,969.4 838.8,967.5 840.3,965.5 841.8,963.4 843.3,961.2 844.7,958.9 846.2,956.6 847.6,954.2 848.9,951.7 850.3,949.2 851.6,946.7 852.8,944.1 854.0,941.6 855.2,939.0 856.3,936.4 857.4,933.8 858.4,931.2 859.3,928.6 860.2,926.1 861.1,923.7 861.8,921.2 862.6,918.9 863.2,916.6 863.8,914.3 864.4,912.2 864.9,910.2 865.3,908.2 865.7,906.4 866.1,904.6 866.4,903.0 866.6,901.6 866.9,900.2 867.0,899.0 867.2,897.9 867.3,897.0 867.4,896.2 867.4,895.6 867.5,895.1 867.5,894.8 867.5,894.6 867.5,894.6 867.5,894.8 867.5,895.1 867.5,895.6 867.5,896.2 867.5,897.0 867.6,898.0 867.6,899.1 867.7,900.3 867.8,901.7 868.0,903.2 868.1,904.9 868.3,906.7 868.6,908.7 868.9,910.7 869.3,912.9 869.7,915.2 870.1,917.5 870.6,920.0 871.2,922.5 871.8,925.2 872.5,927.9 873.2,930.6 874.0,933.4 874.8,936.3 875.8,939.1 876.7,942.0 877.7,945.0 878.8,947.9 880.0,950.8 881.1,953.7 882.4,956.6 883.7,959.4 885.0,962.2 886.4,965.0 887.8,967.6 889.2,970.3 890.7,972.8 892.2,975.3 893.7,977.7 895.2,979.9 896.8,982.1 898.3,984.1 899.9,986.1 901.4,987.9 903.0,989.5 904.5,991.1 906.0,992.4 907.5,993.7 909.0,994.8 910.4,995.7 911.8,996.5 913.1,997.1 914.4,997.6 915.7,997.9 916.8,998.0 917.9,998.0 919.0,997.8 919.9,997.5 920.8,997.0 921.6,996.3 922.3,995.5 922.9,994.6 923.4,993.4 923.8,992.2 924.2,990.8 924.4,989.2 924.5,987.6 924.5,985.8 924.4,983.9 924.2,981.9 923.8,979.7 923.4,977.5 922.9,975.2 922.2,972.8 921.5,970.3 920.7,967.8 919.7,965.2 918.7,962.5 917.5,959.8 916.3,957.1 915.0,954.3 913.6,951.5 912.1,948.7 910.6,945.9 909.0,943.2 907.3,940.4 905.6,937.6 903.8,934.9 902.0,932.2 900.2,929.6 898.3,927.0 896.4,924.5 894.5,922.1 892.6,919.7 890.7,917.4 888.9,915.2 887.0,913.1 885.2,911.1 883.4,909.2 881.7,907.4 880.1,905.7 878.5,904.1 876.9,902.7 875.5,901.3 874.2,900.1 872.9,899.0 871.8,898.0 870.8,897.2 869.9,896.4 869.1,895.8 868.5,895.3 868.0,895.0 867.7,894.7 867.5,894.6 867.5,894.6 867.7,894.7 868.0,894.9 868.5,895.2 869.2,895.7 870.0,896.2 871.1,896.8 872.3,897.5 873.7,898.2 875.3,899.1 877.1,900.0 879.0,901.0 881.2,902.0 883.5,903.1 886.0,904.2 888.7,905.4 891.6,906.6 894.6,907.8 897.8,909.1 901.2,910.3 904.7,911.6 908.4,912.8 912.2,914.0 916.1,915.2 920.2,916.4 924.4,917.6 928.7,918.7 933.1,919.8 937.5,920.8 942.1,921.8 946.7,922.7 951.4,923.5 956.2,924.3 961.0,925.0 965.8,925.6 970.6,926.1 975.5,926.6 980.3,926.9 985.1,927.2 989.9,927.4 994.6,927.5 999.3,927.5 1003.9,927.3 1008.4,927.1 1012.8,926.8 1017.2,926.4 1021.4,925.9 1025.5,925.3 1029.5,924.6 1033.3,923.8 1037.0,923.0 1040.5,922.0 1043.8,921.0 1047.0,919.8 1049.9,918.6 1052.7,917.3 1055.3,916.0 1057.6,914.6 1059.7,913.1 1061.6,911.6 1063.3,910.0 1064.7,908.4 1065.9,906.7 1066.9,905.1 1067.6,903.3 1068.1,901.6 1068.3,899.9 1068.3,898.1 1068.0,896.4 1067.5,894.6" fill="none" stroke="#4f4b97" stroke-width="3.6" stroke-linejoin="round"/>
<ellipse cx="867" cy="895" rx="8" ry="8" fill="#4f4b97"/>
<circle cx="812.1" cy="782.7" r="7.4" fill="none" stroke="#4f4b97" stroke-width="3.6"/>
<circle cx="804.4" cy="802.8" r="7.4" fill="none" stroke="#4f4b97" stroke-width="3.6"/>
<circle cx="844" cy="823.3" r="7.4" fill="none" stroke="#4f4b97" stroke-width="3.6"/>
<circle cx="817.2" cy="839.3" r="7.4" fill="none" stroke="#4f4b97" stroke-width="3.6"/>
<circle cx="857.2" cy="839.3" r="7.4" fill="none" stroke="#4f4b97" stroke-width="3.6"/>
<circle cx="925.6" cy="792.1" r="7.4" fill="none" stroke="#4f4b97" stroke-width="3.6"/>
<circle cx="889.4" cy="836.3" r="7.4" fill="none" stroke="#4f4b97" stroke-width="3.6"/>
<circle cx="915.4" cy="832.4" r="7.4" fill="none" stroke="#4f4b97" stroke-width="3.6"/>
<circle cx="874.6" cy="864.9" r="7.4" fill="none" stroke="#4f4b97" stroke-width="3.6"/>
<circle cx="867" cy="872.5" r="7.4" fill="none" stroke="#4f4b97" stroke-width="3.6"/>
<circle cx="889.9" cy="871.2" r="7.4" fill="none" stroke="#4f4b97" stroke-width="3.6"/>
<circle cx="891.2" cy="882.7" r="7.4" fill="none" stroke="#4f4b97" stroke-width="3.6"/>
<circle cx="826.1" cy="876.3" r="7.4" fill="none" stroke="#4f4b97" stroke-width="3.6"/>
<circle cx="845.3" cy="875.1" r="7.4" fill="none" stroke="#4f4b97" stroke-width="3.6"/>
<circle cx="762.3" cy="864.1" r="7.4" fill="none" stroke="#4f4b97" stroke-width="3.6"/>
<circle cx="707.4" cy="871.2" r="7.4" fill="none" stroke="#4f4b97" stroke-width="3.6"/>
<circle cx="685.7" cy="893.7" r="7.4" fill="none" stroke="#4f4b97" stroke-width="3.6"/>
<circle cx="677.6" cy="920.5" r="7.4" fill="none" stroke="#4f4b97" stroke-width="3.6"/>
<circle cx="783.2" cy="917.7" r="7.4" fill="none" stroke="#4f4b97" stroke-width="3.6"/>
<circle cx="846.5" cy="902.6" r="7.4" fill="none" stroke="#4f4b97" stroke-width="3.6"/>
<circle cx="831.7" cy="922.8" r="7.4" fill="none" stroke="#4f4b97" stroke-width="3.6"/>
<circle cx="854.2" cy="929.9" r="7.4" fill="none" stroke="#4f4b97" stroke-width="3.6"/>
<circle cx="868.7" cy="917.2" r="7.4" fill="none" stroke="#4f4b97" stroke-width="3.6"/>
<circle cx="863.1" cy="913.3" r="7.4" fill="none" stroke="#4f4b97" stroke-width="3.6"/>
<circle cx="884.8" cy="901.9" r="7.4" fill="none" stroke="#4f4b97" stroke-width="3.6"/>
<circle cx="893.7" cy="909.5" r="7.4" fill="none" stroke="#4f4b97" stroke-width="3.6"/>
<circle cx="918" cy="875.1" r="7.4" fill="none" stroke="#4f4b97" stroke-width="3.6"/>
<circle cx="935.1" cy="879.7" r="7.4" fill="none" stroke="#4f4b97" stroke-width="3.6"/>
<circle cx="1024.7" cy="860.3" r="7.4" fill="none" stroke="#4f4b97" stroke-width="3.6"/>
<circle cx="1050.7" cy="880.2" r="7.4" fill="none" stroke="#4f4b97" stroke-width="3.6"/>
<circle cx="1075.7" cy="908.8" r="7.4" fill="none" stroke="#4f4b97" stroke-width="3.6"/>
<circle cx="1022.1" cy="927.4" r="7.4" fill="none" stroke="#4f4b97" stroke-width="3.6"/>
<circle cx="958.8" cy="927.4" r="7.4" fill="none" stroke="#4f4b97" stroke-width="3.6"/>
<circle cx="882.3" cy="955.5" r="7.4" fill="none" stroke="#4f4b97" stroke-width="3.6"/>
<circle cx="913.7" cy="953.7" r="7.4" fill="none" stroke="#4f4b97" stroke-width="3.6"/>
<circle cx="919.3" cy="984.3" r="7.4" fill="none" stroke="#4f4b97" stroke-width="3.6"/>
<circle cx="909.6" cy="1001.4" r="7.4" fill="none" stroke="#4f4b97" stroke-width="3.6"/>
<circle cx="801.1" cy="965.7" r="7.4" fill="none" stroke="#4f4b97" stroke-width="3.6"/>
<circle cx="805.7" cy="982.3" r="7.4" fill="none" stroke="#4f4b97" stroke-width="3.6"/>
<circle cx="818.5" cy="994.3" r="7.4" fill="none" stroke="#4f4b97" stroke-width="3.6"/>
<circle cx="869.6" cy="893.2" r="7.4" fill="none" stroke="#4f4b97" stroke-width="3.6"/>
<circle cx="858" cy="888" r="7.4" fill="none" stroke="#4f4b97" stroke-width="3.6"/>
<circle cx="880" cy="890" r="7.4" fill="none" stroke="#4f4b97" stroke-width="3.6"/>
<circle cx="862" cy="899" r="7.4" fill="none" stroke="#4f4b97" stroke-width="3.6"/>
<circle cx="874" cy="903" r="7.4" fill="none" stroke="#4f4b97" stroke-width="3.6"/>
<circle cx="866" cy="884" r="7.4" fill="none" stroke="#4f4b97" stroke-width="3.6"/>
<text x="868.0" y="652.7" font-size="34.5" font-weight="normal" font-style="normal" text-anchor="middle" fill="#000" >90</text>
<text x="867.7" y="1160.0" font-size="34.5" font-weight="normal" font-style="normal" text-anchor="middle" fill="#000" >270</text>
<text x="633.5" y="907.3" font-size="34.5" font-weight="normal" font-style="normal" text-anchor="end" fill="#000" >180</text>
<text x="1102.0" y="907.0" font-size="34.5" font-weight="normal" font-style="normal" text-anchor="start" fill="#000" >0</text>
<circle cx="984.8" cy="686.5" r="7.4" fill="none" stroke="#4f4b97" stroke-width="3.6"/>
<line x1="946.5" y1="736.6" x2="1024.4" y2="736.6" stroke="#4f4b97" stroke-width="4"/>
<text x="1033" y="699.2" font-size="33.5" fill="#000">I</text>
<text x="1043.5" y="685.7" font-size="22.5" fill="#000">2ω</text>
<text x="1043" y="708.7" font-size="22.5" fill="#000">x</text>
<text x="1033.0" y="749.2" font-size="33.5" font-weight="normal" font-style="normal" text-anchor="start" fill="#000" >Fit.</text>
<line x1="1221" y1="900.4" x2="1671" y2="900.4" stroke="#000" stroke-width="4.2"/>
<line x1="1446.2" y1="676" x2="1446.2" y2="1124.6" stroke="#000" stroke-width="3.8"/>
<polyline points="1447.9,900.4 1448.7,900.4 1449.6,900.3 1450.6,900.3 1451.8,900.2 1453.1,900.1 1454.5,900.0 1456.1,899.8 1457.8,899.6 1459.6,899.3 1461.5,899.1 1463.5,898.7 1465.6,898.4 1467.8,897.9 1470.1,897.5 1472.4,896.9 1474.9,896.4 1477.4,895.7 1479.9,895.1 1482.5,894.3 1485.1,893.5 1487.8,892.7 1490.4,891.8 1493.1,890.9 1495.8,889.9 1498.5,888.8 1501.1,887.7 1503.7,886.6 1506.3,885.4 1508.8,884.2 1511.3,883.0 1513.7,881.7 1516.0,880.4 1518.2,879.1 1520.4,877.7 1522.4,876.4 1524.4,875.0 1526.2,873.6 1527.9,872.3 1529.5,870.9 1531.0,869.5 1532.3,868.2 1533.5,866.9 1534.5,865.6 1535.4,864.4 1536.2,863.1 1536.7,862.0 1537.2,860.8 1537.5,859.8 1537.6,858.8 1537.5,857.8 1537.3,856.9 1537.0,856.1 1536.5,855.4 1535.8,854.7 1535.0,854.1 1534.1,853.7 1533.0,853.3 1531.8,853.0 1530.4,852.7 1529.0,852.6 1527.4,852.6 1525.6,852.7 1523.8,852.8 1521.9,853.1 1519.9,853.5 1517.8,853.9 1515.6,854.5 1513.3,855.1 1511.0,855.9 1508.6,856.7 1506.2,857.6 1503.7,858.6 1501.2,859.7 1498.7,860.9 1496.1,862.1 1493.6,863.4 1491.0,864.7 1488.5,866.1 1486.0,867.6 1483.5,869.1 1481.0,870.6 1478.6,872.2 1476.2,873.8 1473.9,875.4 1471.7,877.0 1469.5,878.7 1467.4,880.3 1465.4,881.9 1463.4,883.5 1461.6,885.0 1459.8,886.6 1458.1,888.1 1456.6,889.5 1455.1,890.9 1453.7,892.2 1452.5,893.4 1451.4,894.6 1450.3,895.6 1449.4,896.6 1448.6,897.5 1448.0,898.3 1447.4,898.9 1446.9,899.5 1446.6,899.9 1446.4,900.2 1446.2,900.4 1446.2,900.4 1446.3,900.3 1446.5,900.0 1446.7,899.6 1447.1,899.1 1447.6,898.4 1448.1,897.5 1448.7,896.5 1449.4,895.4 1450.2,894.1 1451.0,892.6 1451.9,891.0 1452.8,889.2 1453.8,887.3 1454.8,885.2 1455.9,882.9 1457.0,880.6 1458.1,878.1 1459.2,875.4 1460.4,872.6 1461.5,869.7 1462.7,866.6 1463.8,863.5 1465.0,860.2 1466.1,856.8 1467.2,853.3 1468.2,849.7 1469.3,846.0 1470.3,842.2 1471.3,838.4 1472.2,834.5 1473.0,830.5 1473.9,826.4 1474.6,822.3 1475.3,818.2 1475.9,814.1 1476.5,809.9 1477.0,805.7 1477.4,801.5 1477.7,797.3 1478.0,793.1 1478.2,788.9 1478.3,784.8 1478.3,780.6 1478.2,776.6 1478.1,772.5 1477.8,768.6 1477.5,764.7 1477.1,760.8 1476.7,757.1 1476.1,753.4 1475.5,749.9 1474.7,746.4 1473.9,743.1 1473.1,739.8 1472.1,736.7 1471.1,733.7 1470.0,730.9 1468.9,728.2 1467.7,725.6 1466.4,723.2 1465.1,720.9 1463.7,718.8 1462.3,716.8 1460.8,715.0 1459.3,713.4 1457.7,712.0 1456.1,710.7 1454.5,709.6 1452.9,708.6 1451.2,707.9 1449.6,707.3 1447.9,706.9 1446.2,706.7 1444.5,706.7 1442.8,706.9 1441.1,707.2 1439.5,707.7 1437.8,708.4 1436.2,709.2 1434.6,710.3 1433.0,711.5 1431.4,712.9 1429.9,714.4 1428.5,716.1 1427.0,718.0 1425.6,720.0 1424.3,722.2 1423.0,724.5 1421.8,726.9 1420.7,729.5 1419.6,732.2 1418.5,735.1 1417.6,738.1 1416.7,741.1 1415.9,744.3 1415.1,747.6 1414.4,751.0 1413.9,754.5 1413.3,758.1 1412.9,761.7 1412.5,765.4 1412.3,769.2 1412.1,773.0 1411.9,776.9 1411.9,780.8 1411.9,784.7 1412.0,788.7 1412.2,792.7 1412.5,796.7 1412.8,800.7 1413.2,804.7 1413.7,808.7 1414.3,812.6 1414.9,816.6 1415.5,820.5 1416.3,824.4 1417.0,828.2 1417.9,832.0 1418.8,835.7 1419.7,839.4 1420.6,843.0 1421.6,846.5 1422.7,849.9 1423.7,853.3 1424.8,856.6 1425.9,859.7 1427.0,862.8 1428.2,865.7 1429.3,868.6 1430.4,871.3 1431.5,874.0 1432.7,876.5 1433.8,878.9 1434.8,881.1 1435.9,883.3 1436.9,885.3 1437.9,887.2 1438.9,888.9 1439.8,890.5 1440.7,892.0 1441.5,893.4 1442.3,894.7 1443.0,895.8 1443.6,896.8 1444.2,897.6 1444.7,898.4 1445.1,899.0 1445.5,899.5 1445.8,899.9 1446.0,900.2 1446.1,900.3 1446.2,900.4 1446.2,900.4 1446.1,900.2 1445.9,900.0 1445.6,899.7 1445.2,899.3 1444.8,898.8 1444.2,898.3 1443.6,897.7 1442.9,897.0 1442.1,896.3 1441.3,895.5 1440.4,894.7 1439.4,893.8 1438.3,892.9 1437.2,892.0 1436.0,891.1 1434.8,890.1 1433.5,889.1 1432.1,888.2 1430.7,887.2 1429.3,886.2 1427.8,885.3 1426.4,884.3 1424.8,883.4 1423.3,882.5 1421.8,881.7 1420.3,880.8 1418.7,880.1 1417.2,879.3 1415.7,878.6 1414.2,878.0 1412.7,877.4 1411.3,876.9 1409.9,876.4 1408.5,875.9 1407.3,875.6 1406.0,875.3 1404.8,875.0 1403.7,874.9 1402.7,874.8 1401.7,874.7 1400.8,874.7 1400.0,874.8 1399.3,874.9 1398.7,875.1 1398.2,875.4 1397.8,875.7 1397.4,876.1 1397.2,876.5 1397.1,877.0 1397.1,877.5 1397.2,878.1 1397.4,878.7 1397.7,879.3 1398.1,880.0 1398.7,880.7 1399.3,881.4 1400.0,882.2 1400.8,883.0 1401.8,883.8 1402.8,884.6 1403.9,885.4 1405.0,886.2 1406.3,887.0 1407.6,887.9 1409.0,888.7 1410.5,889.5 1412.0,890.3 1413.5,891.0 1415.1,891.8 1416.8,892.5 1418.4,893.2 1420.1,893.9 1421.8,894.5 1423.5,895.2 1425.2,895.7 1426.8,896.3 1428.5,896.8 1430.1,897.3 1431.7,897.7 1433.2,898.1 1434.7,898.5 1436.2,898.8 1437.5,899.1 1438.8,899.4 1440.0,899.6 1441.1,899.8 1442.1,899.9 1443.1,900.1 1443.9,900.2 1444.6,900.3 1445.1,900.3 1445.6,900.4 1445.9,900.4 1446.1,900.4 1446.2,900.4 1446.1,900.4 1445.9,900.4 1445.6,900.4 1445.1,900.4 1444.5,900.4 1443.7,900.4 1442.8,900.5 1441.8,900.5 1440.6,900.6 1439.3,900.7 1437.9,900.8 1436.3,901.0 1434.6,901.2 1432.8,901.5 1430.9,901.7 1428.9,902.1 1426.8,902.4 1424.6,902.9 1422.3,903.3 1420.0,903.9 1417.5,904.4 1415.0,905.1 1412.5,905.7 1409.9,906.5 1407.3,907.3 1404.6,908.1 1402.0,909.0 1399.3,909.9 1396.6,910.9 1393.9,912.0 1391.3,913.1 1388.7,914.2 1386.1,915.4 1383.6,916.6 1381.1,917.8 1378.7,919.1 1376.4,920.4 1374.2,921.7 1372.0,923.1 1370.0,924.4 1368.0,925.8 1366.2,927.2 1364.5,928.5 1362.9,929.9 1361.4,931.3 1360.1,932.6 1358.9,933.9 1357.9,935.2 1357.0,936.4 1356.2,937.7 1355.7,938.8 1355.2,940.0 1354.9,941.0 1354.8,942.0 1354.9,943.0 1355.1,943.9 1355.4,944.7 1355.9,945.4 1356.6,946.1 1357.4,946.7 1358.3,947.1 1359.4,947.5 1360.6,947.8 1362.0,948.1 1363.4,948.2 1365.0,948.2 1366.8,948.1 1368.6,948.0 1370.5,947.7 1372.5,947.3 1374.6,946.9 1376.8,946.3 1379.1,945.7 1381.4,944.9 1383.8,944.1 1386.2,943.2 1388.7,942.2 1391.2,941.1 1393.7,939.9 1396.3,938.7 1398.8,937.4 1401.4,936.1 1403.9,934.7 1406.4,933.2 1408.9,931.7 1411.4,930.2 1413.8,928.6 1416.2,927.0 1418.5,925.4 1420.7,923.8 1422.9,922.1 1425.0,920.5 1427.0,918.9 1429.0,917.3 1430.8,915.8 1432.6,914.2 1434.3,912.7 1435.8,911.3 1437.3,909.9 1438.7,908.6 1439.9,907.4 1441.0,906.2 1442.1,905.2 1443.0,904.2 1443.8,903.3 1444.4,902.5 1445.0,901.9 1445.5,901.3 1445.8,900.9 1446.0,900.6 1446.2,900.4 1446.2,900.4 1446.1,900.5 1445.9,900.8 1445.7,901.2 1445.3,901.7 1444.8,902.4 1444.3,903.3 1443.7,904.3 1443.0,905.4 1442.2,906.7 1441.4,908.2 1440.5,909.8 1439.6,911.6 1438.6,913.5 1437.6,915.6 1436.5,917.9 1435.4,920.2 1434.3,922.7 1433.2,925.4 1432.0,928.2 1430.9,931.1 1429.7,934.2 1428.6,937.3 1427.4,940.6 1426.3,944.0 1425.2,947.5 1424.2,951.1 1423.1,954.8 1422.1,958.6 1421.1,962.4 1420.2,966.3 1419.4,970.3 1418.5,974.4 1417.8,978.5 1417.1,982.6 1416.5,986.7 1415.9,990.9 1415.4,995.1 1415.0,999.3 1414.7,1003.5 1414.4,1007.7 1414.2,1011.9 1414.1,1016.0 1414.1,1020.2 1414.2,1024.2 1414.3,1028.3 1414.6,1032.2 1414.9,1036.1 1415.3,1040.0 1415.7,1043.7 1416.3,1047.4 1416.9,1050.9 1417.7,1054.4 1418.5,1057.7 1419.3,1061.0 1420.3,1064.1 1421.3,1067.1 1422.4,1069.9 1423.5,1072.6 1424.7,1075.2 1426.0,1077.6 1427.3,1079.9 1428.7,1082.0 1430.1,1084.0 1431.6,1085.8 1433.1,1087.4 1434.7,1088.8 1436.3,1090.1 1437.9,1091.2 1439.5,1092.2 1441.2,1092.9 1442.8,1093.5 1444.5,1093.9 1446.2,1094.1 1447.9,1094.1 1449.6,1093.9 1451.3,1093.6 1452.9,1093.1 1454.6,1092.4 1456.2,1091.6 1457.8,1090.5 1459.4,1089.3 1461.0,1087.9 1462.5,1086.4 1463.9,1084.7 1465.4,1082.8 1466.8,1080.8 1468.1,1078.6 1469.4,1076.3 1470.6,1073.9 1471.7,1071.3 1472.8,1068.6 1473.9,1065.7 1474.8,1062.7 1475.7,1059.7 1476.5,1056.5 1477.3,1053.2 1478.0,1049.8 1478.5,1046.3 1479.1,1042.7 1479.5,1039.1 1479.9,1035.4 1480.1,1031.6 1480.3,1027.8 1480.5,1023.9 1480.5,1020.0 1480.5,1016.1 1480.4,1012.1 1480.2,1008.1 1479.9,1004.1 1479.6,1000.1 1479.2,996.1 1478.7,992.1 1478.1,988.2 1477.5,984.2 1476.9,980.3 1476.1,976.4 1475.4,972.6 1474.5,968.8 1473.6,965.1 1472.7,961.4 1471.8,957.8 1470.8,954.3 1469.7,950.9 1468.7,947.5 1467.6,944.2 1466.5,941.1 1465.4,938.0 1464.2,935.1 1463.1,932.2 1462.0,929.5 1460.9,926.8 1459.7,924.3 1458.6,921.9 1457.6,919.7 1456.5,917.5 1455.5,915.5 1454.5,913.6 1453.5,911.9 1452.6,910.3 1451.7,908.8 1450.9,907.4 1450.1,906.1 1449.4,905.0 1448.8,904.0 1448.2,903.2 1447.7,902.4 1447.3,901.8 1446.9,901.3 1446.6,900.9 1446.4,900.6 1446.3,900.5 1446.2,900.4 1446.2,900.4 1446.3,900.6 1446.5,900.8 1446.8,901.1 1447.2,901.5 1447.6,902.0 1448.2,902.5 1448.8,903.1 1449.5,903.8 1450.3,904.5 1451.1,905.3 1452.0,906.1 1453.0,907.0 1454.1,907.9 1455.2,908.8 1456.4,909.7 1457.6,910.7 1458.9,911.7 1460.3,912.6 1461.7,913.6 1463.1,914.6 1464.6,915.5 1466.0,916.5 1467.6,917.4 1469.1,918.3 1470.6,919.1 1472.1,920.0 1473.7,920.7 1475.2,921.5 1476.7,922.2 1478.2,922.8 1479.7,923.4 1481.1,923.9 1482.5,924.4 1483.9,924.9 1485.1,925.2 1486.4,925.5 1487.6,925.8 1488.7,925.9 1489.7,926.0 1490.7,926.1 1491.6,926.1 1492.4,926.0 1493.1,925.9 1493.7,925.7 1494.2,925.4 1494.6,925.1 1495.0,924.7 1495.2,924.3 1495.3,923.8 1495.3,923.3 1495.2,922.7 1495.0,922.1 1494.7,921.5 1494.3,920.8 1493.7,920.1 1493.1,919.4 1492.4,918.6 1491.6,917.8 1490.6,917.0 1489.6,916.2 1488.5,915.4 1487.4,914.6 1486.1,913.8 1484.8,912.9 1483.4,912.1 1481.9,911.3 1480.4,910.5 1478.9,909.8 1477.3,909.0 1475.6,908.3 1474.0,907.6 1472.3,906.9 1470.6,906.3 1468.9,905.6 1467.2,905.1 1465.6,904.5 1463.9,904.0 1462.3,903.5 1460.7,903.1 1459.2,902.7 1457.7,902.3 1456.2,902.0 1454.9,901.7 1453.6,901.4 1452.4,901.2 1451.3,901.0 1450.3,900.9 1449.3,900.7 1448.5,900.6 1447.8,900.5 1447.3,900.5 1446.8,900.4 1446.5,900.4 1446.3,900.4 1446.2,900.4 1446.3,900.4 1446.5,900.4 1446.8,900.4 1447.3,900.4 1447.9,900.4" fill="none" stroke="#e31e2d" stroke-width="3.6" stroke-linejoin="round"/>
<ellipse cx="1444" cy="898" rx="8" ry="11" fill="#e31e2d"/>
<circle cx="1439.8" cy="738" r="7.4" fill="none" stroke="#e31e2d" stroke-width="3.6"/>
<circle cx="1418.75" cy="752" r="7.4" fill="none" stroke="#e31e2d" stroke-width="3.6"/>
<circle cx="1459.7" cy="758.3" r="7.4" fill="none" stroke="#e31e2d" stroke-width="3.6"/>
<circle cx="1412.5" cy="796" r="7.4" fill="none" stroke="#e31e2d" stroke-width="3.6"/>
<circle cx="1472.3" cy="792.6" r="7.4" fill="none" stroke="#e31e2d" stroke-width="3.6"/>
<circle cx="1412.5" cy="831.8" r="7.4" fill="none" stroke="#e31e2d" stroke-width="3.6"/>
<circle cx="1466.7" cy="847.5" r="7.4" fill="none" stroke="#e31e2d" stroke-width="3.6"/>
<circle cx="1556.3" cy="839.8" r="7.4" fill="none" stroke="#e31e2d" stroke-width="3.6"/>
<circle cx="1516.8" cy="848.2" r="7.4" fill="none" stroke="#e31e2d" stroke-width="3.6"/>
<circle cx="1480" cy="866.8" r="7.4" fill="none" stroke="#e31e2d" stroke-width="3.6"/>
<circle cx="1516.8" cy="872" r="7.4" fill="none" stroke="#e31e2d" stroke-width="3.6"/>
<circle cx="1518.5" cy="883.6" r="7.4" fill="none" stroke="#e31e2d" stroke-width="3.6"/>
<circle cx="1485.3" cy="892.3" r="7.4" fill="none" stroke="#e31e2d" stroke-width="3.6"/>
<circle cx="1399.2" cy="878.3" r="7.4" fill="none" stroke="#e31e2d" stroke-width="3.6"/>
<circle cx="1404.2" cy="888.75" r="7.4" fill="none" stroke="#e31e2d" stroke-width="3.6"/>
<circle cx="1415" cy="880.4" r="7.4" fill="none" stroke="#e31e2d" stroke-width="3.6"/>
<circle cx="1425.8" cy="881.7" r="7.4" fill="none" stroke="#e31e2d" stroke-width="3.6"/>
<circle cx="1422.9" cy="902.5" r="7.4" fill="none" stroke="#e31e2d" stroke-width="3.6"/>
<circle cx="1436.7" cy="885" r="7.4" fill="none" stroke="#e31e2d" stroke-width="3.6"/>
<circle cx="1437.5" cy="903.3" r="7.4" fill="none" stroke="#e31e2d" stroke-width="3.6"/>
<circle cx="1433.75" cy="921.7" r="7.4" fill="none" stroke="#e31e2d" stroke-width="3.6"/>
<circle cx="1413.75" cy="927" r="7.4" fill="none" stroke="#e31e2d" stroke-width="3.6"/>
<circle cx="1454.2" cy="885" r="7.4" fill="none" stroke="#e31e2d" stroke-width="3.6"/>
<circle cx="1470.4" cy="897" r="7.4" fill="none" stroke="#e31e2d" stroke-width="3.6"/>
<circle cx="1479.2" cy="911.7" r="7.4" fill="none" stroke="#e31e2d" stroke-width="3.6"/>
<circle cx="1478.3" cy="930" r="7.4" fill="none" stroke="#e31e2d" stroke-width="3.6"/>
<circle cx="1493.3" cy="924.6" r="7.4" fill="none" stroke="#e31e2d" stroke-width="3.6"/>
<circle cx="1460" cy="925" r="7.4" fill="none" stroke="#e31e2d" stroke-width="3.6"/>
<circle cx="1480" cy="923.3" r="7.4" fill="none" stroke="#e31e2d" stroke-width="3.6"/>
<circle cx="1373.25" cy="920.3" r="7.4" fill="none" stroke="#e31e2d" stroke-width="3.6"/>
<circle cx="1382" cy="927.3" r="7.4" fill="none" stroke="#e31e2d" stroke-width="3.6"/>
<circle cx="1370.8" cy="944.8" r="7.4" fill="none" stroke="#e31e2d" stroke-width="3.6"/>
<circle cx="1420.5" cy="950.8" r="7.4" fill="none" stroke="#e31e2d" stroke-width="3.6"/>
<circle cx="1421.2" cy="972.8" r="7.4" fill="none" stroke="#e31e2d" stroke-width="3.6"/>
<circle cx="1473" cy="969.3" r="7.4" fill="none" stroke="#e31e2d" stroke-width="3.6"/>
<circle cx="1476.5" cy="1021.8" r="7.4" fill="none" stroke="#e31e2d" stroke-width="3.6"/>
<circle cx="1413.5" cy="1076.8" r="7.4" fill="none" stroke="#e31e2d" stroke-width="3.6"/>
<circle cx="1464.25" cy="1075" r="7.4" fill="none" stroke="#e31e2d" stroke-width="3.6"/>
<circle cx="1438.7" cy="1098.8" r="7.4" fill="none" stroke="#e31e2d" stroke-width="3.6"/>
<circle cx="1445" cy="896.7" r="7.4" fill="none" stroke="#e31e2d" stroke-width="3.6"/>
<text x="1446.3" y="670.9" font-size="34.5" font-weight="normal" font-style="normal" text-anchor="middle" fill="#000" >90</text>
<text x="1446.2" y="1154.6" font-size="34.5" font-weight="normal" font-style="normal" text-anchor="middle" fill="#000" >270</text>
<text x="1215.5" y="912.0" font-size="34.5" font-weight="normal" font-style="normal" text-anchor="end" fill="#000" >180</text>
<text x="1679.0" y="912.0" font-size="34.5" font-weight="normal" font-style="normal" text-anchor="start" fill="#000" >0</text>
<circle cx="1571.2" cy="684.6" r="7.4" fill="none" stroke="#e31e2d" stroke-width="3.6"/>
<line x1="1533.5" y1="734" x2="1610.5" y2="734" stroke="#e31e2d" stroke-width="4"/>
<text x="1618" y="697" font-size="33.5" fill="#000">I</text>
<text x="1628.5" y="683.5" font-size="22.5" fill="#000">2ω</text>
<text x="1628" y="706.5" font-size="22.5" fill="#000">y</text>
<text x="1618.0" y="746.2" font-size="33.5" font-weight="normal" font-style="normal" text-anchor="start" fill="#000" >Fit.</text>
</svg>
</body></html>
